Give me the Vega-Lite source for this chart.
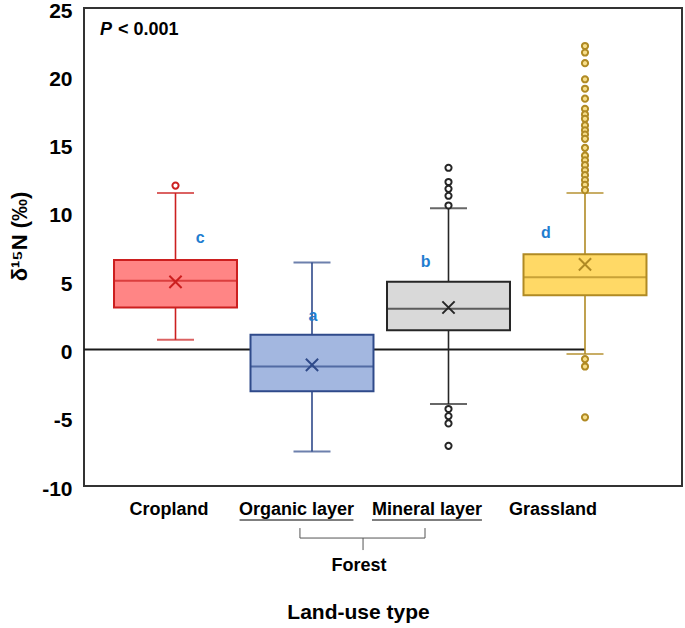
{
  "$schema": "https://vega.github.io/schema/vega-lite/v6.json",
  "width": 598,
  "height": 478,
  "autosize": "none",
  "padding": {"left": 84, "top": 8, "right": 3, "bottom": 142},
  "background": "white",
  "config": {"font": "Liberation Sans", "view": {"stroke": "#333333", "strokeWidth": 2}},
  "datasets": {
    "boxes": [
      {"type": "Cropland", "lower": 0.71, "q1": 3.07, "median": 5.02, "mean": 4.95, "q3": 6.55, "upper": 11.45, "letter": "c"},
      {"type": "Organic layer", "lower": -7.48, "q1": -3.07, "median": -1.25, "mean": -1.13, "q3": 1.08, "upper": 6.37, "letter": "a"},
      {"type": "Mineral layer", "lower": -4.0, "q1": 1.4, "median": 2.97, "mean": 3.07, "q3": 4.95, "upper": 10.34, "letter": "b"},
      {"type": "Grassland", "lower": -0.34, "q1": 3.97, "median": 5.29, "mean": 6.23, "q3": 6.96, "upper": 11.45, "letter": "d"}
    ],
    "outliers": [
      {"type": "Cropland", "value": 12.0},
      {"type": "Mineral layer", "value": 13.3},
      {"type": "Mineral layer", "value": 12.26},
      {"type": "Mineral layer", "value": 11.76},
      {"type": "Mineral layer", "value": 11.25},
      {"type": "Mineral layer", "value": 10.54},
      {"type": "Mineral layer", "value": -4.36},
      {"type": "Mineral layer", "value": -4.88},
      {"type": "Mineral layer", "value": -5.42},
      {"type": "Mineral layer", "value": -7.06},
      {"type": "Grassland", "value": 22.22},
      {"type": "Grassland", "value": 21.74},
      {"type": "Grassland", "value": 20.96},
      {"type": "Grassland", "value": 19.78},
      {"type": "Grassland", "value": 19.09},
      {"type": "Grassland", "value": 18.36},
      {"type": "Grassland", "value": 17.62},
      {"type": "Grassland", "value": 17.21},
      {"type": "Grassland", "value": 16.89},
      {"type": "Grassland", "value": 16.4},
      {"type": "Grassland", "value": 16.05},
      {"type": "Grassland", "value": 15.74},
      {"type": "Grassland", "value": 15.42},
      {"type": "Grassland", "value": 14.76},
      {"type": "Grassland", "value": 14.19},
      {"type": "Grassland", "value": 13.85},
      {"type": "Grassland", "value": 13.49},
      {"type": "Grassland", "value": 13.12},
      {"type": "Grassland", "value": 12.76},
      {"type": "Grassland", "value": 12.4},
      {"type": "Grassland", "value": 12.06},
      {"type": "Grassland", "value": 11.66},
      {"type": "Grassland", "value": -0.71},
      {"type": "Grassland", "value": -1.25},
      {"type": "Grassland", "value": -4.97}
    ]
  },
  "data": {"name": "boxes"},
  "resolve": {"scale": {"fill": "independent"}},
  "layer": [
    {
      "data": {"values": [{}]},
      "mark": {"type": "rule", "color": "#1a1a1a", "strokeWidth": 2},
      "encoding": {
        "x": {"datum": "Cropland", "type": "nominal", "bandPosition": -0.244},
        "x2": {"datum": "Grassland", "bandPosition": 0.5},
        "y": {"datum": 0, "type": "quantitative"}
      }
    },
    {
      "mark": {"type": "rule", "strokeWidth": 1.6},
      "encoding": {
        "x": {"field": "type", "type": "nominal"},
        "y": {"field": "lower", "type": "quantitative"},
        "y2": {"field": "upper"},
        "color": {"field": "type", "type": "nominal", "scale": {"domain": ["Cropland", "Organic layer", "Mineral layer", "Grassland"], "range": ["#CC1F1F", "#2F4A8A", "#262626", "#B08A24"]}, "legend": null}
      }
    },
    {
      "mark": {"type": "tick", "size": 37, "thickness": 2},
      "encoding": {
        "x": {"field": "type", "type": "nominal"},
        "y": {"field": "lower", "type": "quantitative"},
        "color": {"field": "type", "type": "nominal", "legend": null}
      }
    },
    {
      "mark": {"type": "tick", "size": 37, "thickness": 2},
      "encoding": {
        "x": {"field": "type", "type": "nominal"},
        "y": {"field": "upper", "type": "quantitative"},
        "color": {"field": "type", "type": "nominal", "legend": null}
      }
    },
    {
      "mark": {"type": "bar", "strokeWidth": 2},
      "encoding": {
        "x": {
          "field": "type", "type": "nominal",
          "sort": ["Cropland", "Organic layer", "Mineral layer", "Grassland"],
          "scale": {"domain": ["Cropland", "Organic layer", "Mineral layer", "Grassland"], "paddingInner": 0.099, "paddingOuter": 0.24, "align": 0.458},
          "axis": {
            "title": "Land-use type", "titleFontSize": 21, "titleFontWeight": "bold", "titleColor": "black",
            "titleX": 274, "titleY": 126, "titleBaseline": "middle", "titleAlign": "center",
            "labelFontSize": 18, "labelFontWeight": "bold", "labelColor": "black", "labelAngle": 0, "labelPadding": 14,
            "labelAlign": "center", "labelBaseline": "top",
            "ticks": false, "domain": false,
            "labelOffset": {"condition": [{"test": "datum.value === 'Cropland'", "value": -6.5}, {"test": "datum.value === 'Organic layer'", "value": -15.5}, {"test": "datum.value === 'Mineral layer'", "value": -21.5}], "value": -32}
          }
        },
        "y": {
          "field": "q1", "type": "quantitative",
          "scale": {"domain": [-10, 25], "nice": false, "zero": false},
          "axis": {
            "values": [-10, -5, 0, 5, 10, 15, 20, 25], "grid": false, "ticks": false, "domain": false,
            "labelExpr": "'' + datum.value", "labelOffset": 3,
            "labelFontSize": 21, "labelFontWeight": "bold", "labelColor": "black", "labelPadding": 12,
            "title": "δ¹⁵N (‰)", "titleFontSize": 22, "titleFontWeight": "bold", "titleColor": "black",
            "titleX": -65, "titleY": 228, "titleAngle": -90, "titleBaseline": "middle", "titleAlign": "center"
          }
        },
        "y2": {"field": "q3"},
        "fill": {"field": "type", "type": "nominal", "scale": {"domain": ["Cropland", "Organic layer", "Mineral layer", "Grassland"], "range": ["#FF8585", "#A3B7E0", "#D9D9D9", "#FFD966"]}, "legend": null},
        "stroke": {"field": "type", "type": "nominal", "scale": {"domain": ["Cropland", "Organic layer", "Mineral layer", "Grassland"], "range": ["#CC1F1F", "#2F4A8A", "#262626", "#B08A24"]}, "legend": null}
      }
    },
    {
      "mark": {"type": "tick", "size": 123, "thickness": 2},
      "encoding": {
        "x": {"field": "type", "type": "nominal"},
        "y": {"field": "median", "type": "quantitative"},
        "color": {"field": "type", "type": "nominal", "legend": null}
      }
    },
    {
      "mark": {"type": "point", "shape": "M-1,-1L1,1M-1,1L1,-1", "size": 150, "filled": false, "strokeWidth": 2, "opacity": 1},
      "encoding": {
        "x": {"field": "type", "type": "nominal"},
        "y": {"field": "mean", "type": "quantitative"},
        "stroke": {"field": "type", "type": "nominal", "legend": null}
      }
    },
    {
      "data": {"name": "outliers"},
      "mark": {"type": "point", "shape": "circle", "size": 38, "filled": true, "strokeWidth": 2, "opacity": 1},
      "encoding": {
        "x": {"field": "type", "type": "nominal"},
        "y": {"field": "value", "type": "quantitative"},
        "stroke": {"field": "type", "type": "nominal", "legend": null},
        "fill": {"field": "type", "type": "nominal", "scale": {"domain": ["Cropland", "Organic layer", "Mineral layer", "Grassland"], "range": ["#FFFFFF", "#FFFFFF", "#FFFFFF", "#F7DE8A"]}, "legend": null}
      }
    },
    {
      "transform": [{"filter": "datum.type === 'Cropland'"}],
      "mark": {"type": "text", "fontSize": 16, "fontWeight": "bold", "color": "#1F7ED0", "baseline": "middle"},
      "encoding": {"x": {"field": "type", "type": "nominal", "bandPosition": 0.7}, "y": {"datum": 8.16, "type": "quantitative"}, "text": {"field": "letter"}}
    },
    {
      "transform": [{"filter": "datum.type === 'Organic layer'"}],
      "mark": {"type": "text", "fontSize": 16, "fontWeight": "bold", "color": "#1F7ED0", "baseline": "middle"},
      "encoding": {"x": {"field": "type", "type": "nominal", "bandPosition": 0.508}, "y": {"datum": 2.45, "type": "quantitative"}, "text": {"field": "letter"}}
    },
    {
      "transform": [{"filter": "datum.type === 'Mineral layer'"}],
      "mark": {"type": "text", "fontSize": 16, "fontWeight": "bold", "color": "#1F7ED0", "baseline": "middle"},
      "encoding": {"x": {"field": "type", "type": "nominal", "bandPosition": 0.315}, "y": {"datum": 6.42, "type": "quantitative"}, "text": {"field": "letter"}}
    },
    {
      "transform": [{"filter": "datum.type === 'Grassland'"}],
      "mark": {"type": "text", "fontSize": 16, "fontWeight": "bold", "color": "#1F7ED0", "baseline": "middle"},
      "encoding": {"x": {"field": "type", "type": "nominal", "bandPosition": 0.183}, "y": {"datum": 8.55, "type": "quantitative"}, "text": {"field": "letter"}}
    },
    {
      "data": {"values": [{}]},
      "mark": {"type": "text", "text": "P", "fontSize": 18, "fontWeight": "bold", "fontStyle": "italic", "color": "black", "align": "left", "baseline": "middle"},
      "encoding": {"x": {"datum": "Cropland", "type": "nominal", "bandPosition": -0.114}, "y": {"datum": 23.39, "type": "quantitative"}}
    },
    {
      "data": {"values": [{}]},
      "mark": {"type": "text", "text": "< 0.001", "fontSize": 18, "fontWeight": "bold", "color": "black", "align": "left", "baseline": "middle"},
      "encoding": {"x": {"datum": "Cropland", "type": "nominal", "bandPosition": 0.033}, "y": {"datum": 23.39, "type": "quantitative"}}
    },
    {
      "data": {"values": [{}]},
      "mark": {"type": "rule", "color": "black", "strokeWidth": 1},
      "encoding": {"x": {"datum": "Organic layer", "type": "nominal", "bandPosition": -0.089}, "x2": {"datum": "Organic layer", "bandPosition": 0.837}, "y": {"datum": -12.49, "type": "quantitative"}}
    },
    {
      "data": {"values": [{}]},
      "mark": {"type": "rule", "color": "black", "strokeWidth": 1},
      "encoding": {"x": {"datum": "Mineral layer", "type": "nominal", "bandPosition": -0.122}, "x2": {"datum": "Mineral layer", "bandPosition": 0.772}, "y": {"datum": -12.49, "type": "quantitative"}}
    },
    {
      "data": {"values": [{}]},
      "mark": {"type": "rule", "color": "#555555", "strokeWidth": 1},
      "encoding": {"x": {"datum": "Organic layer", "type": "nominal", "bandPosition": 0.402}, "x2": {"datum": "Mineral layer", "bandPosition": 0.309}, "y": {"datum": -13.81, "type": "quantitative"}}
    },
    {
      "data": {"values": [{}]},
      "mark": {"type": "rule", "color": "#555555", "strokeWidth": 1},
      "encoding": {"x": {"datum": "Organic layer", "type": "nominal", "bandPosition": 0.402}, "y": {"datum": -13.08, "type": "quantitative"}, "y2": {"datum": -13.81}}
    },
    {
      "data": {"values": [{}]},
      "mark": {"type": "rule", "color": "#555555", "strokeWidth": 1},
      "encoding": {"x": {"datum": "Mineral layer", "type": "nominal", "bandPosition": 0.309}, "y": {"datum": -13.08, "type": "quantitative"}, "y2": {"datum": -13.81}}
    },
    {
      "data": {"values": [{}]},
      "mark": {"type": "rule", "color": "#555555", "strokeWidth": 1},
      "encoding": {"x": {"datum": "Organic layer", "type": "nominal", "bandPosition": 0.915}, "y": {"datum": -13.81, "type": "quantitative"}, "y2": {"datum": -14.69}}
    },
    {
      "data": {"values": [{}]},
      "mark": {"type": "text", "text": "Forest", "fontSize": 18, "fontWeight": "bold", "color": "black", "align": "center", "baseline": "middle"},
      "encoding": {"x": {"datum": "Organic layer", "type": "nominal", "bandPosition": 0.882}, "y": {"datum": -15.86, "type": "quantitative"}}
    }
  ]
}
